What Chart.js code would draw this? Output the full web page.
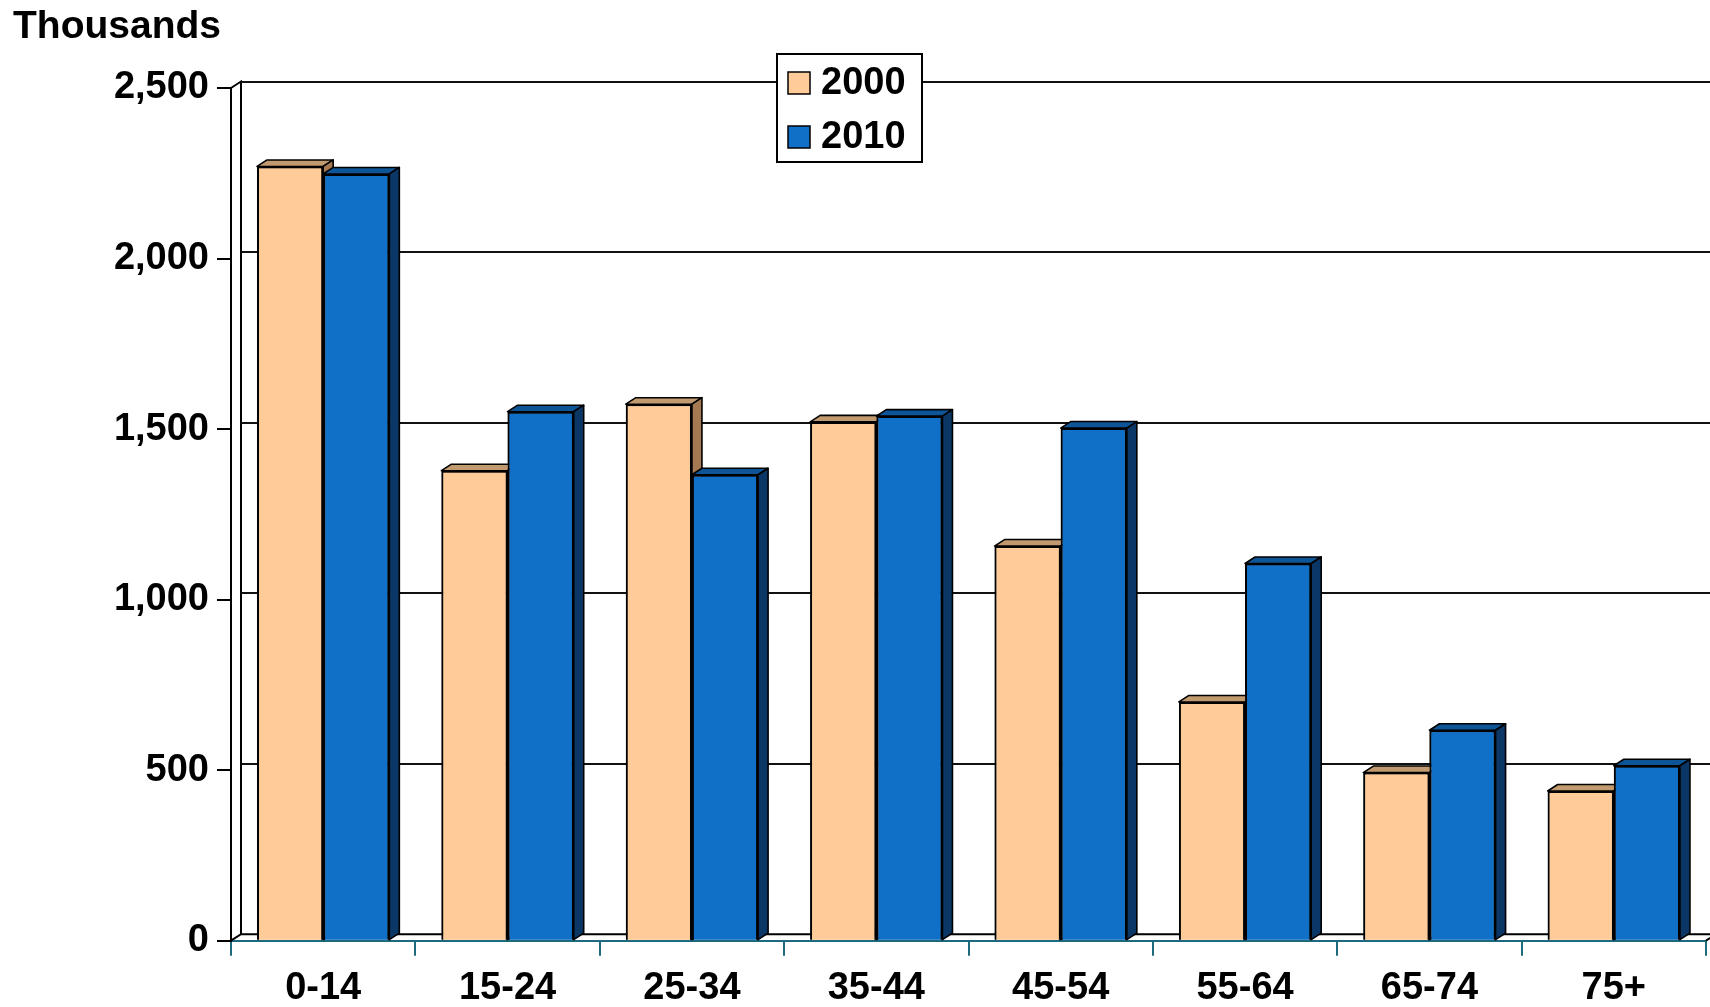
<!DOCTYPE html>
<html>
<head>
<meta charset="utf-8">
<title>Population by age</title>
<script src="https://cdn.jsdelivr.net/npm/chart.js@4.4.1/dist/chart.umd.min.js"></script>
<style>
  html, body { margin: 0; padding: 0; background: #fff; }
  #wrap { width: 1710px; height: 1007px; position: relative; }
</style>
</head>
<body>
<div id="wrap"><canvas id="myChart"></canvas></div>
<script>
// data (thousands)
var ageGroups = ['0-14', '15-24', '25-34', '35-44', '45-54', '55-64', '65-74', '75+'];
var pop2000 = [2270, 1378, 1573, 1521, 1157, 700, 493, 439];
var pop2010 = [2248, 1551, 1366, 1538, 1503, 1106, 617, 513];
var seriesNames = ['2000', '2010'];
var yMin = 0, yMax = 2500, yStep = 500;
var unitLabel = 'Thousands';

var FONT = '"Liberation Sans", Arial, sans-serif';
var dX = 10, dY = 6.5;   // fake 3d depth
var TEAL = '#1d6a7e';

// back wall, floor and gridlines
var wallPlugin = {
    id: 'wall',
    beforeDatasetsDraw: function (chart) {
        var ctx = chart.ctx, a = chart.chartArea, ys = chart.scales.y;
        ctx.save();
        ctx.strokeStyle = '#000';
        ctx.lineWidth = 2;
        ctx.beginPath();
        // left wall
        ctx.moveTo(a.left, a.top);
        ctx.lineTo(a.left + dX, a.top - dY);
        ctx.lineTo(a.left + dX, a.bottom - dY);
        // floor
        ctx.moveTo(a.left, a.bottom);
        ctx.lineTo(a.left + dX, a.bottom - dY);
        ctx.lineTo(chart.width, a.bottom - dY);
        ctx.moveTo(a.right, a.bottom);
        ctx.lineTo(a.right + dX, a.bottom - dY);
        ctx.stroke();
        // gridlines on the back wall
        ctx.strokeStyle = '#111';
        ctx.lineWidth = 2;
        ys.ticks.forEach(function (t) {
            if (t.value <= yMin) return;
            var py = Math.round(ys.getPixelForValue(t.value) - dY);
            ctx.beginPath();
            ctx.moveTo(a.left + dX, py);
            ctx.lineTo(chart.width, py);
            ctx.stroke();
        });
        ctx.restore();
    }
};

// redraw every bar left to right with its top and side faces
var boxPlugin = {
    id: 'box3d',
    afterDatasetsDraw: function (chart) {
        var ctx = chart.ctx;
        ctx.save();
        chart.data.datasets.forEach(function (ds, i) {
            var meta = chart.getDatasetMeta(i);
            meta.data.forEach(function (bar) {
                bar.draw(ctx, chart.chartArea);
                var p = bar.getProps(['x', 'y', 'base', 'width'], true);
                var l = p.x - p.width / 2, r = p.x + p.width / 2;
                ctx.strokeStyle = '#000';
                ctx.lineWidth = 1.6;
                ctx.lineJoin = 'round';
                // top
                ctx.beginPath();
                ctx.moveTo(l, p.y);
                ctx.lineTo(l + dX, p.y - dY);
                ctx.lineTo(r + dX, p.y - dY);
                ctx.lineTo(r, p.y);
                ctx.closePath();
                ctx.fillStyle = ds.topColor;
                ctx.fill();
                ctx.stroke();
                // side
                ctx.beginPath();
                ctx.moveTo(r, p.y);
                ctx.lineTo(r + dX, p.y - dY);
                ctx.lineTo(r + dX, p.base - dY);
                ctx.lineTo(r, p.base);
                ctx.closePath();
                ctx.fillStyle = ds.sideColor;
                ctx.fill();
                ctx.stroke();
            });
        });
        ctx.restore();
    }
};

// unit label and boxed legend
var decoPlugin = {
    id: 'deco',
    afterDraw: function (chart) {
        var ctx = chart.ctx;
        ctx.save();
        ctx.fillStyle = '#000';
        ctx.font = 'bold 39px ' + FONT;
        ctx.textBaseline = 'alphabetic';
        ctx.textAlign = 'left';
        ctx.fillText(unitLabel, 13, 38);

        var bx = 777, by = 54, bw = 145, bh = 108;
        ctx.fillStyle = '#fff';
        ctx.fillRect(bx, by, bw, bh);
        ctx.strokeStyle = '#000';
        ctx.lineWidth = 2;
        ctx.strokeRect(bx, by, bw, bh);
        chart.data.datasets.forEach(function (ds, i) {
            var cy = 83 + i * 54;
            ctx.fillStyle = ds.backgroundColor;
            ctx.fillRect(788, cy - 11, 22, 22);
            ctx.lineWidth = 1.5;
            ctx.strokeRect(788, cy - 11, 22, 22);
            ctx.fillStyle = '#000';
            ctx.font = 'bold 38px ' + FONT;
            ctx.textBaseline = 'middle';
            ctx.fillText(ds.label, 821, cy + 1);
        });
        ctx.restore();
    }
};

var ctx = document.getElementById('myChart').getContext('2d');
var myChart = new Chart(ctx, {
    type: 'bar',
    data: {
        labels: ageGroups,
        datasets: [{
            label: seriesNames[0],
            data: pop2000,
            backgroundColor: '#ffcc99',
            topColor: '#c29a70',
            sideColor: '#a57a52',
            borderColor: '#000',
            borderWidth: 2,
            categoryPercentage: 0.7175,
            barPercentage: 1
        }, {
            label: seriesNames[1],
            data: pop2010,
            backgroundColor: '#106fc6',
            topColor: '#0e5598',
            sideColor: '#0a3766',
            borderColor: '#000',
            borderWidth: 2,
            categoryPercentage: 0.7175,
            barPercentage: 1
        }]
    },
    options: {
        responsive: true,
        maintainAspectRatio: false,
        animation: false,
        layout: { padding: { top: 88, right: 4, left: 0, bottom: 0 } },
        plugins: {
            legend: { display: false },
            title: { display: false },
            tooltip: { enabled: false }
        },
        scales: {
            x: {
                z: 1,
                grid: {
                    offset: true,
                    drawOnChartArea: false,
                    drawTicks: true,
                    tickLength: 15,
                    color: TEAL,
                    lineWidth: 2
                },
                border: { display: true, color: TEAL, width: 2 },
                ticks: {
                    color: '#000',
                    padding: 10,
                    font: { family: FONT, size: 38, weight: 'bold' },
                    maxRotation: 0
                },
                afterFit: function (scale) { scale.height = 66.3; }
            },
            y: {
                min: yMin,
                max: yMax,
                grid: {
                    drawOnChartArea: false,
                    drawTicks: true,
                    tickLength: 14,
                    color: '#000',
                    lineWidth: 2
                },
                border: { display: true, color: '#000', width: 2 },
                ticks: {
                    stepSize: yStep,
                    color: '#000',
                    padding: 8,
                    font: { family: FONT, size: 38, weight: 'bold' },
                    callback: function (v) { return v.toLocaleString('en-US'); }
                },
                afterFit: function (scale) { scale.width = 231; }
            }
        }
    },
    plugins: [wallPlugin, boxPlugin, decoPlugin]
});
</script>
</body>
</html>
